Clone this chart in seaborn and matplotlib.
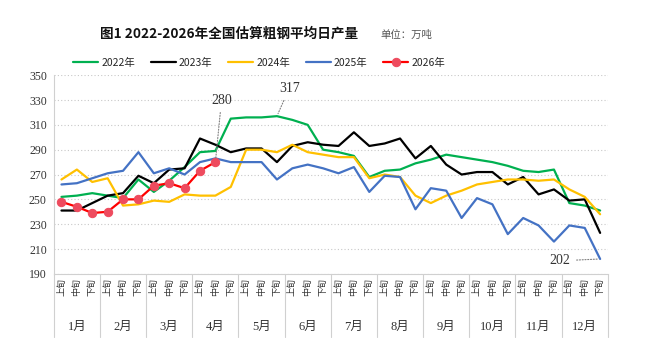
import pandas as pd
import seaborn as sns
import matplotlib.pyplot as plt

# ten-day periods: 上旬/中旬/下旬 for each month
months = [f"{m}月" for m in range(1, 13)]
periods = ["上旬", "中旬", "下旬"]
tick_labels = periods * 12

y2022 = [252, 253, 255, 253, 251, 266, 256, 265, 276, 288, 289, 315,
         316, 316, 317, 314, 310, 290, 288, 285, 268, 273, 274, 279,
         282, 286, 284, 282, 280, 277, 273, 272, 274, 247, 245, 241]
y2023 = [241, 241, 247, 253, 255, 269, 263, 274, 275, 299, 294, 288,
         291, 291, 280, 293, 296, 294, 293, 304, 293, 295, 299, 283,
         293, 278, 270, 272, 272, 262, 268, 254, 258, 249, 250, 223]
y2024 = [266, 274, 264, 267, 245, 246, 249, 248, 254, 253, 253, 260,
         290, 290, 288, 294, 288, 286, 284, 284, 267, 270, 268, 253,
         247, 253, 257, 262, 264, 266, 266, 265, 266, 258, 252, 238]
y2025 = [262, 263, 267, 271, 273, 288, 271, 275, 270, 280, 283, 280,
         280, 280, 266, 275, 278, 275, 271, 276, 256, 269, 268, 242,
         259, 257, 235, 251, 246, 222, 235, 229, 216, 229, 227, 202]
y2026 = [248, 244, 239, 240, 250, 250, 261, 263, 259, 273, 280]

series = {
    "2022年": (y2022, "#00B050"),
    "2023年": (y2023, "#000000"),
    "2024年": (y2024, "#FFC000"),
    "2025年": (y2025, "#4472C4"),
}

sns.set_style("white")
plt.rcParams["font.family"] = ["Noto Sans CJK SC", "DejaVu Sans"]
serif = ["Liberation Serif", "Noto Sans CJK SC"]

fig = plt.figure(figsize=(6.48, 3.58), dpi=100)
ax = fig.add_axes([0.083, 0.235, 0.855, 0.555])

for name, (vals, color) in series.items():
    df = pd.DataFrame({"x": range(len(vals)), "y": vals})
    sns.lineplot(data=df, x="x", y="y", ax=ax, color=color, linewidth=1.6,
                 label=name)
df26 = pd.DataFrame({"x": range(len(y2026)), "y": y2026})
sns.lineplot(data=df26, x="x", y="y", ax=ax, color="#FF0000", linewidth=1.6,
             marker="o", markersize=6, markerfacecolor="#EE4B5E",
             markeredgecolor="#EE4B5E", label="2026年")

ax.set_xlim(-0.5, 35.5)
ax.set_ylim(190, 350)
ax.set_yticks(range(190, 351, 20))
ax.set_yticklabels([str(v) for v in range(190, 351, 20)], family=serif,
                   fontsize=8.5, color="#333333")
ax.set_xticks(range(36))
ax.set_xticklabels(tick_labels, rotation=90, fontsize=6.5, color="#333333")
ax.set_xticks([i - 0.5 for i in range(37)], minor=True)
ax.tick_params(axis="x", which="major", length=0, pad=3)
ax.tick_params(axis="x", which="minor", length=3, color="#bfbfbf")
ax.tick_params(axis="y", length=3, color="#bfbfbf", pad=2)
ax.set_xlabel("")
ax.set_ylabel("")

ax.yaxis.grid(True, linestyle=(0, (1, 2)), color="#c8c8c8", linewidth=0.8)
for s in ["top", "right"]:
    ax.spines[s].set_visible(False)
for s in ["left", "bottom"]:
    ax.spines[s].set_color("#d0d0d0")

# month labels and separators under the period labels
trans = ax.get_xaxis_transform()
for m in range(13):
    ax.plot([3 * m - 0.5, 3 * m - 0.5], [0, -0.32], transform=trans,
            color="#d0d0d0", linewidth=0.8, clip_on=False)
for m, lab in enumerate(months):
    ax.text(3 * m + 1, -0.265, lab, transform=trans, ha="center", va="center",
            family=serif, fontsize=9, color="#333333")

# callouts
arrow = dict(arrowstyle="-", linestyle=(0, (1, 1.5)), color="#808080", lw=0.8)
ax.annotate("280", xy=(10, 280), xytext=(10.4, 330), ha="center", va="center",
            family=serif, fontsize=10, color="#333333", arrowprops=arrow)
ax.annotate("317", xy=(14, 317), xytext=(14.8, 339.5), ha="center",
            va="center", family=serif, fontsize=10, color="#333333",
            arrowprops=arrow)
ax.annotate("202", xy=(35, 202), xytext=(32.4, 200.5), ha="center",
            va="center", family=serif, fontsize=10, color="#333333",
            arrowprops=arrow)

ax.legend(loc="center", bbox_to_anchor=(0.40, 0.824),
          bbox_transform=fig.transFigure, ncol=5, frameon=False, fontsize=7.5,
          handlelength=2.4, columnspacing=1.5, handletextpad=0.3)

fig.text(0.354, 0.905, "图1 2022-2026年全国估算粗钢平均日产量", ha="center",
         va="center", fontsize=9.8, fontweight="bold", color="#111111")
fig.text(0.587, 0.903, "单位：万吨", ha="left", va="center", fontsize=7.5,
         color="#555555")

fig.savefig("out.png", dpi=100)
